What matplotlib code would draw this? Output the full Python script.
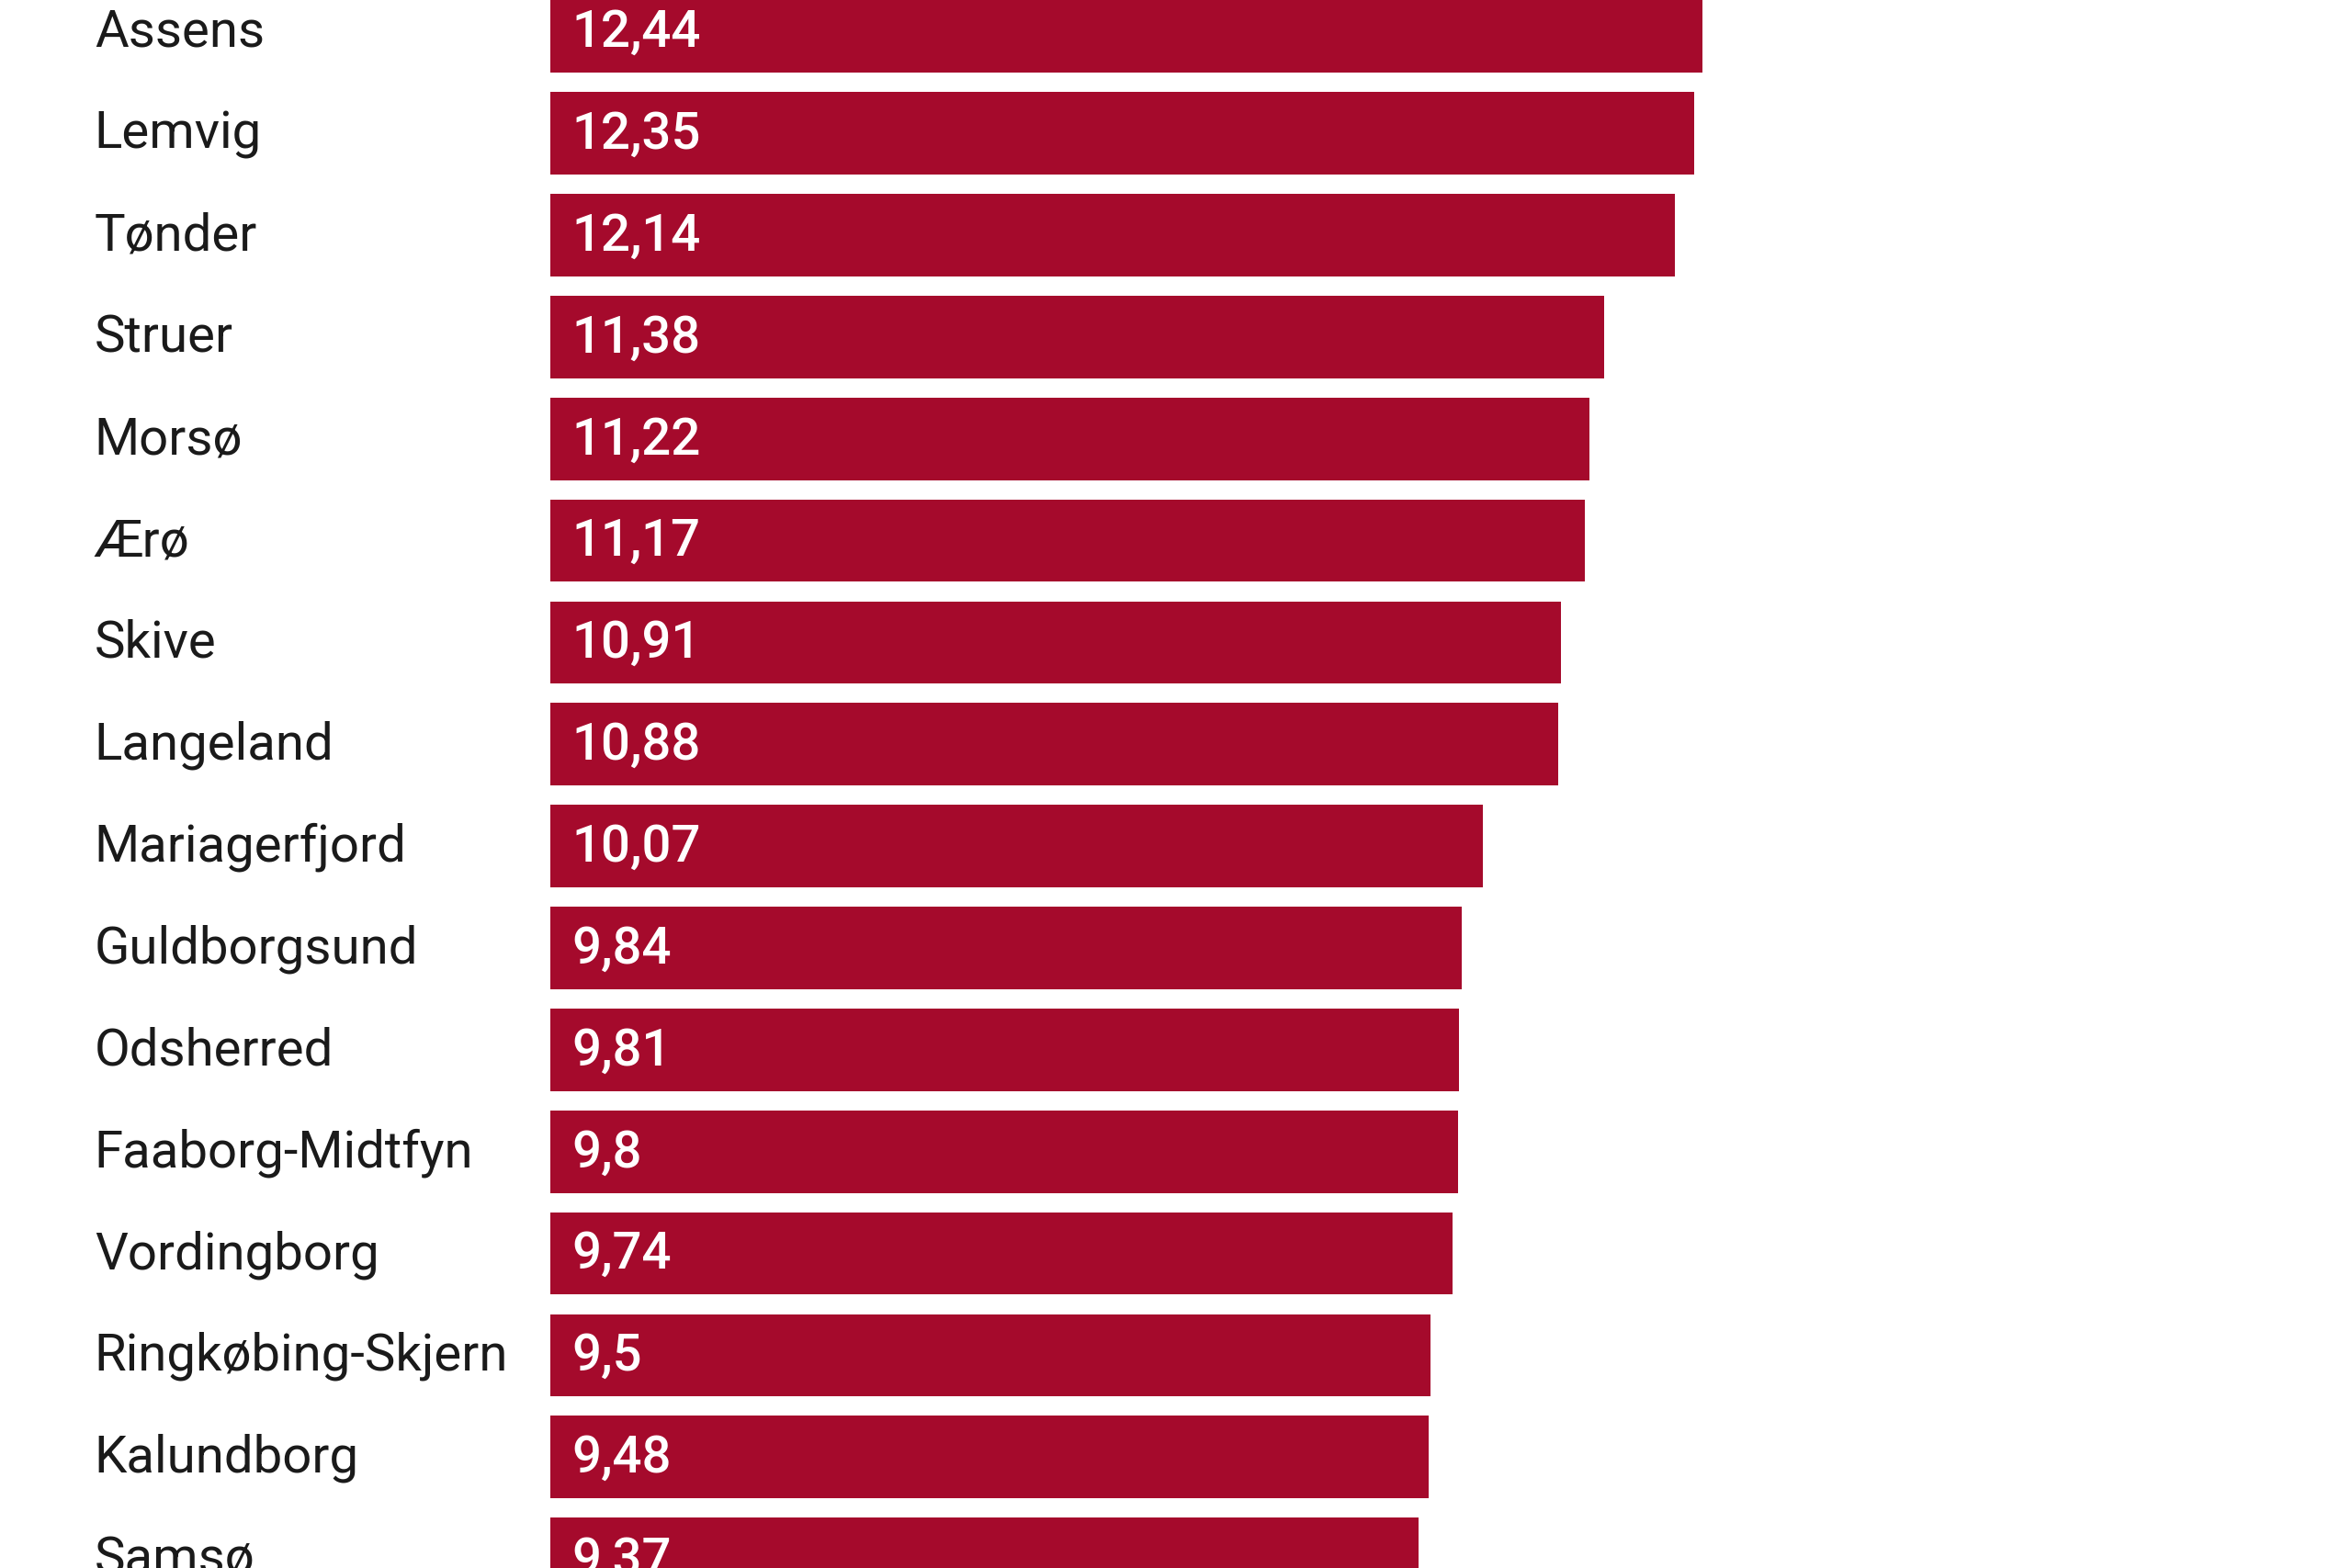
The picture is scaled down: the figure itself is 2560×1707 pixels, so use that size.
import matplotlib
matplotlib.use("Agg")
import matplotlib.pyplot as plt
from matplotlib.transforms import blended_transform_factory

kommuner = ["Assens", "Lemvig", "Tønder", "Struer", "Morsø", "Ærø", "Skive",
            "Langeland", "Mariagerfjord", "Guldborgsund", "Odsherred",
            "Faaborg-Midtfyn", "Vordingborg", "Ringkøbing-Skjern", "Kalundborg", "Samsø"]
vaerdier = [12.44, 12.35, 12.14, 11.38, 11.22, 11.17, 10.91, 10.88, 10.07,
            9.84, 9.81, 9.8, 9.74, 9.5, 9.48, 9.37]
etiketter = ["12,44", "12,35", "12,14", "11,38", "11,22", "11,17", "10,91", "10,88",
             "10,07", "9,84", "9,81", "9,8", "9,74", "9,5", "9,48", "9,37"]

farve = "#a50a2c"
plt.rcParams["font.family"] = ["Roboto", "DejaVu Sans"]

fig = plt.figure(figsize=(12.8, 8.535), dpi=200)
# bars start at x=0.234 of the figure
venstre = 367 / 1568
enhed = (1135 - 367) / 1568 / 12.44
ax = fig.add_axes([venstre, 0, 1 - venstre, 1])
ax.set_xlim(0, (1 - venstre) / enhed)

pos = list(range(len(kommuner)))
ax.barh(pos, vaerdier, height=0.81, color=farve)

# crop like the reference: the first and last rows are cut off
afstand = 67.93
ax.set_ylim((1046 - 21) / afstand, -21 / afstand)
ax.axis("off")

trans = blended_transform_factory(fig.transFigure, ax.transData)
for i, navn in enumerate(kommuner):
    ax.text(63 / 1568, i - 0.04, navn, transform=trans, ha="left", va="center_baseline",
            fontsize=20.3, color="#1a1a1a")
    ax.text(381 / 1568, i - 0.04, etiketter[i], transform=trans, ha="left",
            va="center_baseline", fontsize=20.3, color="white", fontweight="medium")

fig.savefig("out.png", dpi=200)
